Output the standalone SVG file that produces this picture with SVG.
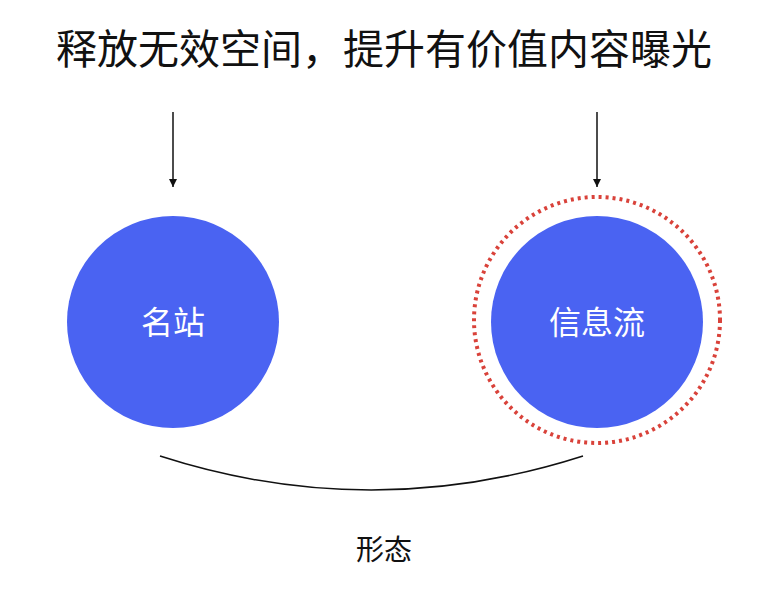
<svg xmlns="http://www.w3.org/2000/svg" width="759" height="600" viewBox="0 0 759 600">
<style>
text{font-family:"Noto Sans CJK SC","Noto Sans",sans-serif;text-anchor:middle}
.t{font-size:41px;fill:#111}
.n{font-size:32px;fill:#fff}
.c{fill:#4a63f2}
.ln{stroke:#111;stroke-width:1.5;fill:none}
</style>
<defs><marker id="ah" markerWidth="10" markerHeight="10" refX="8" refY="5" orient="auto" markerUnits="userSpaceOnUse"><path d="M0,1 L8,5 L0,9 Z" fill="#111"/></marker></defs>
<rect width="759" height="600" fill="#fff"/>
<text class="t" x="384" y="64">释放无效空间，提升有价值内容曝光</text>
<g id="connectors">
<line class="ln" x1="173" y1="112" x2="173" y2="187" marker-end="url(#ah)"/>
<line class="ln" x1="597" y1="112" x2="597" y2="187" marker-end="url(#ah)"/>
<path class="ln" d="M160,456 Q371,524 583,456"/>
</g>
<g id="n1"><circle class="c" cx="173" cy="322" r="106"/><text class="n" x="173" y="334">名站</text></g>
<g id="n2"><circle cx="597" cy="320" r="123" fill="none" stroke="#d9423a" stroke-width="4" stroke-dasharray="3 4"/><circle class="c" cx="597" cy="322" r="106"/><text class="n" x="597" y="334">信息流</text></g>
<g id="lbl"><text x="384" y="560" style="font-size:28px;fill:#111">形态</text></g>
</svg>
